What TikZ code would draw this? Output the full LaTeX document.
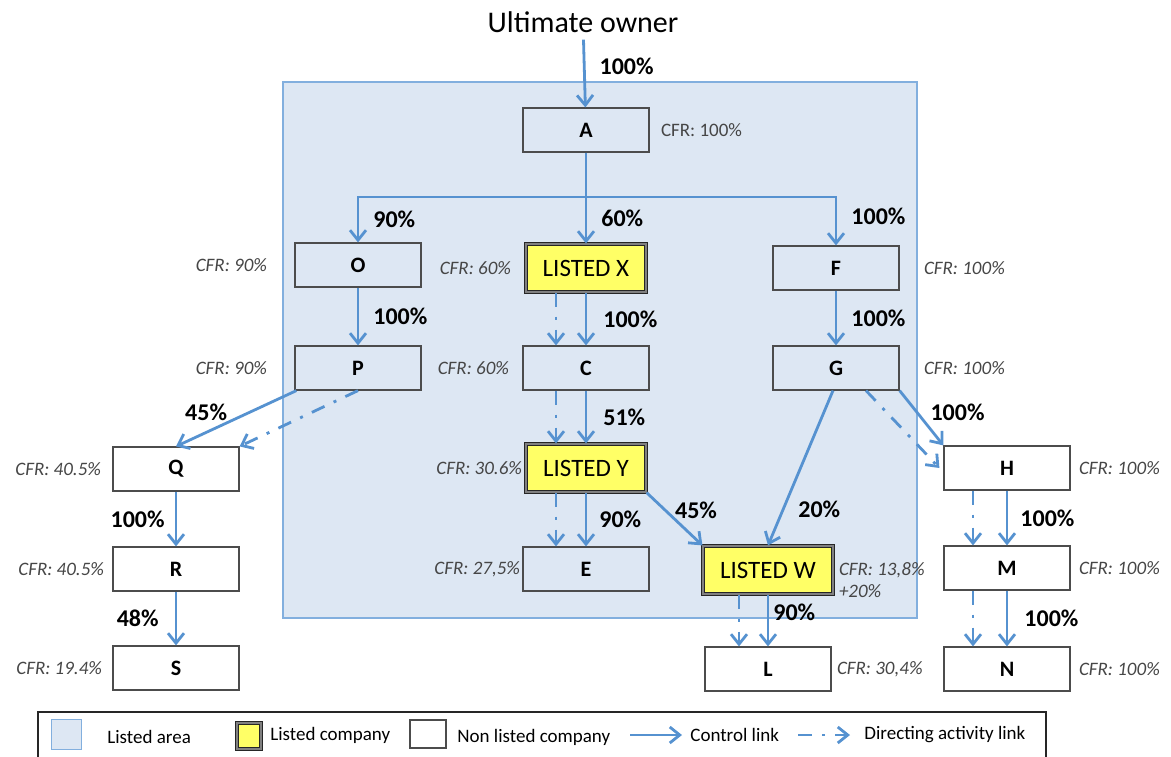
\documentclass[tikz,border=0pt]{standalone}
\usepackage{fontspec}
\setmainfont{Carlito}
\usetikzlibrary{positioning}
\usetikzlibrary{arrows.meta}

\definecolor{linkblue}{RGB}{86,146,208}
\definecolor{areablue}{RGB}{221,231,243}
\definecolor{areaborder}{RGB}{130,175,222}
\definecolor{listedyellow}{RGB}{255,255,102}
\definecolor{cfrgray}{RGB}{70,70,70}

\begin{document}
\begin{tikzpicture}[x=0.5pt,y=-0.5pt]
		\tikzset{box/.style = {shape=rectangle,draw=black!70,line width=0.6pt,minimum width=63pt,minimum height=22pt,inner sep=0pt,font=\fontsize{11}{13}\selectfont\bfseries}}
		\tikzset{listed/.style = {shape=rectangle,draw=black!85,line width=0.6pt,double=black!50,double distance=0.8pt,fill=listedyellow,minimum width=60pt,minimum height=24pt,inner sep=0pt,font=\fontsize{12.5}{14}\selectfont}}
		\tikzset{cfr/.style = {font=\fontsize{9.5}{11}\selectfont\itshape,text=cfrgray,inner sep=0pt}}
		\tikzset{pct/.style = {font=\fontsize{12}{14}\selectfont\bfseries,inner sep=1pt}}
		\tikzset{legend/.style = {font=\fontsize{9.5}{11}\selectfont,inner sep=0pt}}
		\tikzset{edge/.style = {-{Straight Barb[length=5pt,width=8pt]},draw=linkblue,line width=1.4pt}}
		\tikzset{direct/.style = {edge,dash pattern=on 7pt off 5pt on 1.5pt off 5pt}}
		\useasboundingbox (0,0) rectangle (1171,756);
		% listed area
		\draw[fill=areablue,draw=areaborder,line width=0.6pt] (283,82) rectangle (917,618);
		
		% vertices
		\node[font=\fontsize{15}{18}\selectfont] (owner) at (583,22) {Ultimate owner};
		\node[box] (A) at (586,130) {A};
		\node[box] (O) at (358,265) {O};
		\node[listed] (X) at (586,268) {LISTED X};
		\node[box] (F) at (836,268) {F};
		\node[box] (P) at (358,368) {P};
		\node[box] (C) at (586,368) {C};
		\node[box] (G) at (836,368) {G};
		\node[box] (Q) at (176,469) {Q};
		\node[listed] (Y) at (586,468) {LISTED Y};
		\node[box] (H) at (1007,468) {H};
		\node[box] (R) at (176,569) {R};
		\node[box] (E) at (586,569) {E};
		\node[listed, minimum width=65pt] (W) at (768,570) {LISTED W};
		\node[box] (M) at (1007,568) {M};
		\node[box] (S) at (176,668) {S};
		\node[box] (L) at (768,669) {L};
		\node[box] (N) at (1007,669) {N};
		
		\coordinate (split) at (586,197);
		
		% cfr values
		\node[cfr, font=\fontsize{9.5}{11}\selectfont, right=5.5pt of A] (cfrA) {CFR: 100\%};
		\node[cfr, left=13.5pt of O] (cfrO) {CFR: 90\%};
		\node[cfr, left=7pt of X] (cfrX) {CFR: 60\%};
		\node[cfr, right=12pt of F] (cfrF) {CFR: 100\%};
		\node[cfr, left=13.5pt of P] (cfrP) {CFR: 90\%};
		\node[cfr, left=6.5pt of C] (cfrC) {CFR: 60\%};
		\node[cfr, right=12pt of G] (cfrG) {CFR: 100\%};
		\node[cfr, left=5.5pt of Q] (cfrQ) {CFR: 40.5\%};
		\node[cfr, left=4pt of R] (cfrR) {CFR: 40.5\%};
		\node[cfr, left=5pt of S] (cfrS) {CFR: 19.4\%};
		\node[cfr, left=1.5pt of Y] (cfrY) {CFR: 30.6\%};
		\node[cfr, left=1pt of E] (cfrE) {CFR: 27,5\%};
		\node[cfr, right=2.5pt of W] (cfrW) {CFR: 13,8\%};
		\node[cfr, anchor=north west] (cfrWplus) at ([yshift=-3pt]cfrW.south west) {+20\%};
		\node[cfr, right=2.5pt of L] (cfrL) {CFR: 30,4\%};
		\node[cfr, right=4pt of H] (cfrH) {CFR: 100\%};
		\node[cfr, right=4pt of M] (cfrM) {CFR: 100\%};
		\node[cfr, right=4pt of N] (cfrN) {CFR: 100\%};
		
		%edges
		\draw[edge] (owner) to node[pct, pos=0.4, right=6pt]{100\%} (A);
		
		\draw[edge] (A) to node[pct, pos=0.72, right=6pt]{60\%} (X);
		\draw[edge] (split) -| node[pct, pos=0.75, right=6pt]{90\%} (O.north);
		\draw[edge] (split) -| node[pct, pos=0.7, right=6pt]{100\%} (F.north);
		
		\draw[edge] (O) to node[pct, midway, right=6pt]{100\%} (P);
		\draw[edge] (X) to node[pct, midway, right=7pt]{100\%} (C);
		\draw[direct] ([xshift=-15pt]X.south) to ([xshift=-15pt]C.north);
		\draw[edge] (F) to node[pct, midway, right=6pt]{100\%} (G);
		
		\draw[edge] (C) to node[pct, midway, right=7pt]{51\%} (Y);
		\draw[direct] ([xshift=-15pt]C.south) to ([xshift=-15pt]Y.north);
		
		\draw[edge] ([xshift=1pt]P.south west) to node[pct, pos=0.75, above=4pt]{45\%} (Q.north);
		\draw[direct] (P.south) to (Q.north east);
		
		\draw[edge] (Y) to node[pct, midway, right=5pt]{90\%} (E);
		\draw[direct] ([xshift=-15pt]Y.south) to ([xshift=-15pt]E.north);
		\draw[edge] (Y.south east) to node[pct, midway, above right=-2pt]{45\%} (W.north west);
		
		\draw[edge] ([xshift=-1.5pt]G.south) to node[pct, pos=0.77, right=6pt]{20\%} (W.north);
		\draw[edge] (G.south east) to node[pct, pos=0.4, right=5pt]{100\%} (H.north west);
		\draw[direct] ([xshift=15pt]G.south) to ([xshift=-2pt]H.west);
		
		\draw[edge] (W) to node[pct, pos=0.35, right=1pt]{90\%} (L);
		\draw[direct] ([xshift=-14.5pt]W.south) to ([xshift=-14.5pt]L.north);
		
		\draw[edge] (H) to node[pct, midway, right=5pt]{100\%} (M);
		\draw[direct] ([xshift=-17pt]H.south) to ([xshift=-17pt]M.north);
		\draw[edge] (M) to node[pct, midway, right=7pt]{100\%} (N);
		\draw[direct] ([xshift=-17pt]M.south) to ([xshift=-17pt]N.north);
		
		\draw[edge] (Q) to node[pct, midway, left=4pt]{100\%} (R);
		\draw[edge] (R) to node[pct, midway, left=7pt]{48\%} (S);
		
		% legend
		\draw[black!85, line width=0.8pt] (38,712) rectangle (1046,800);
		\node[shape=rectangle, draw=areaborder, fill=areablue, minimum size=15pt] (keyArea) at (66,734) {};
		\node[legend, anchor=west] (txtArea) at (107,737) {Listed area};
		\node[listed, minimum width=12pt, minimum height=13pt] (keyListed) at (249,736) {};
		\node[legend, anchor=west] (txtListed) at (270,735) {Listed company};
		\node[box, minimum width=18pt, minimum height=14pt] (keyPlain) at (428,734) {};
		\node[legend, anchor=west] (txtPlain) at (457,737) {Non listed company};
		\coordinate (ctlA) at (630,735);
		\coordinate (ctlB) at (682,735);
		\draw[edge] (ctlA) -- (ctlB);
		\node[legend, anchor=west] (txtCtl) at (690,735) {Control link};
		\coordinate (dirA) at (798,735);
		\coordinate (dirB) at (850,735);
		\draw[direct] (dirA) -- (dirB);
		\node[legend, anchor=west] (txtDir) at (864,735) {Directing activity link};
		
\end{tikzpicture}
\end{document}
